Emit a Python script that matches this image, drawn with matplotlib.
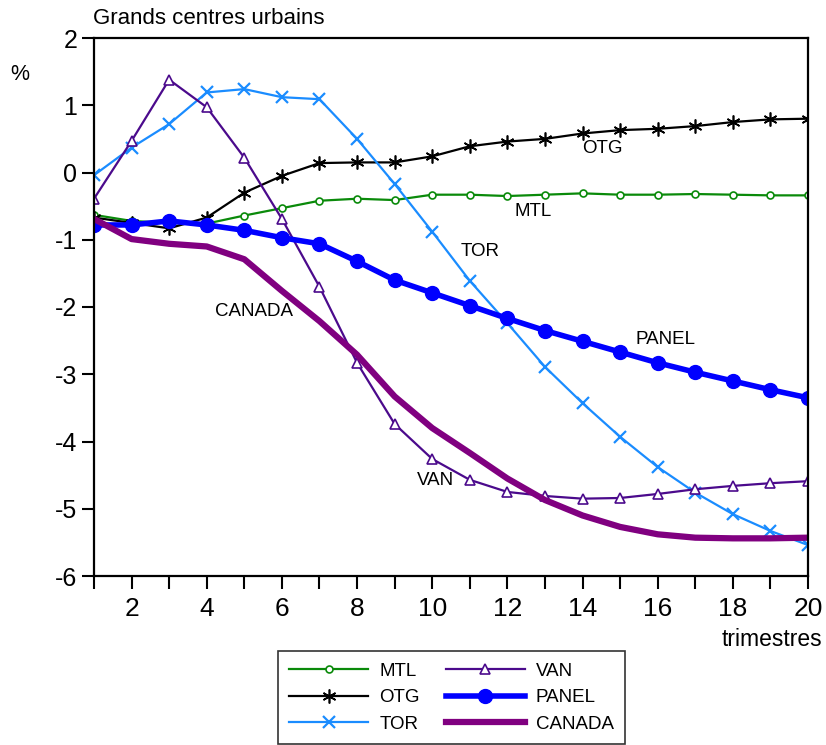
import numpy as np
import matplotlib.pyplot as plt
from matplotlib.ticker import MultipleLocator

plt.rcParams['font.family'] = ['Liberation Sans', 'DejaVu Sans']
plt.rcParams['axes.unicode_minus'] = False

# trimestres
trimestres = list(range(1, 21))

mtl = [-0.63, -0.72, -0.75, -0.76, -0.64, -0.53, -0.42, -0.39, -0.41, -0.33,
       -0.33, -0.35, -0.33, -0.31, -0.33, -0.33, -0.32, -0.33, -0.34, -0.34]
otg = [-0.67, -0.75, -0.83, -0.67, -0.30, -0.05, 0.14, 0.15, 0.15, 0.24,
       0.39, 0.46, 0.50, 0.58, 0.63, 0.65, 0.69, 0.75, 0.79, 0.80]
tor = [-0.04, 0.37, 0.72, 1.19, 1.24, 1.12, 1.09, 0.50, -0.17, -0.88,
       -1.61, -2.24, -2.89, -3.43, -3.93, -4.38, -4.76, -5.08, -5.33, -5.54]
van = [-0.39, 0.47, 1.38, 0.97, 0.22, -0.69, -1.70, -2.83, -3.74, -4.26,
       -4.57, -4.75, -4.81, -4.85, -4.84, -4.78, -4.71, -4.66, -4.62, -4.59]
panel = [-0.78, -0.78, -0.72, -0.78, -0.86, -0.97, -1.06, -1.32, -1.60, -1.79,
         -1.98, -2.17, -2.35, -2.51, -2.67, -2.83, -2.97, -3.10, -3.23, -3.35]
canada = [-0.69, -0.99, -1.06, -1.10, -1.29, -1.76, -2.21, -2.71, -3.33, -3.80,
          -4.17, -4.55, -4.87, -5.10, -5.27, -5.38, -5.43, -5.44, -5.44, -5.43]

fig = plt.figure(figsize=(8.26, 7.45), dpi=100)
ax = fig.add_axes([94/826, 1-576/745, (808-94)/826, (576-38)/745])

ax.plot(trimestres, mtl, color='#0a8a0a', lw=1.6, marker='o', ms=5,
        mfc='white', mec='#0a8a0a', mew=1.2, label='MTL')
ax.plot(trimestres, otg, color='black', lw=1.6, marker=(6, 2, 0), ms=10,
        mew=1.2, label='OTG')
ax.plot(trimestres, tor, color='#1a8cff', lw=1.6, marker='x', ms=8,
        mew=1.6, label='TOR')
ax.plot(trimestres, van, color='#4b0a8c', lw=1.6, marker='^', ms=7,
        mfc='white', mec='#4b0a8c', mew=1.2, label='VAN')
ax.plot(trimestres, panel, color='#0000ff', lw=4, marker='o', ms=10,
        label='PANEL')
ax.plot(trimestres, canada, color='#800080', lw=4.5, label='CANADA')

ax.set_xlim(1, 20)
ax.set_ylim(-6, 2)
ax.xaxis.set_major_locator(MultipleLocator(2))
ax.xaxis.set_minor_locator(MultipleLocator(1))
ax.yaxis.set_major_locator(MultipleLocator(1))
ax.tick_params(axis='both', which='both', direction='out', length=9, width=1.5)
ax.tick_params(axis='x', labelsize=19, pad=6)
ax.tick_params(axis='y', labelsize=18, pad=3)
for s in ax.spines.values():
    s.set_linewidth(1.6)

# etiquettes dans le graphique
ax.text(14.54, 0.36, 'OTG', fontsize=13.5, ha='center', va='center')
ax.text(12.68, -0.58, 'MTL', fontsize=13.5, ha='center', va='center')
ax.text(11.27, -1.18, 'TOR', fontsize=13.5, ha='center', va='center')
ax.text(5.26, -2.06, 'CANADA', fontsize=13.5, ha='center', va='center')
ax.text(16.22, -2.48, 'PANEL', fontsize=13.5, ha='center', va='center')
ax.text(10.1, -4.58, 'VAN', fontsize=13.5, ha='center', va='center')

fig.text(93/826, 1-18/745, 'Grands centres urbains', fontsize=16,
         ha='left', va='center')
fig.text(20/826, 1-75/745, '%', fontsize=15.5, ha='center', va='center')
fig.text(822/826, 1-640/745, 'trimestres', fontsize=16.5,
         ha='right', va='center')

h, l = ax.get_legend_handles_labels()
leg = fig.legend(h, l, ncol=2, loc='center',
                 bbox_to_anchor=((275+628)/2/826, 1-(652+743)/2/745),
                 fontsize=13.5, frameon=True, fancybox=False,
                 edgecolor='black', handlelength=4.2, columnspacing=1.4,
                 labelspacing=0.5, borderpad=0.6, handletextpad=0.6)
leg.get_frame().set_linewidth(1.2)

fig.savefig('out.png', dpi=100)
